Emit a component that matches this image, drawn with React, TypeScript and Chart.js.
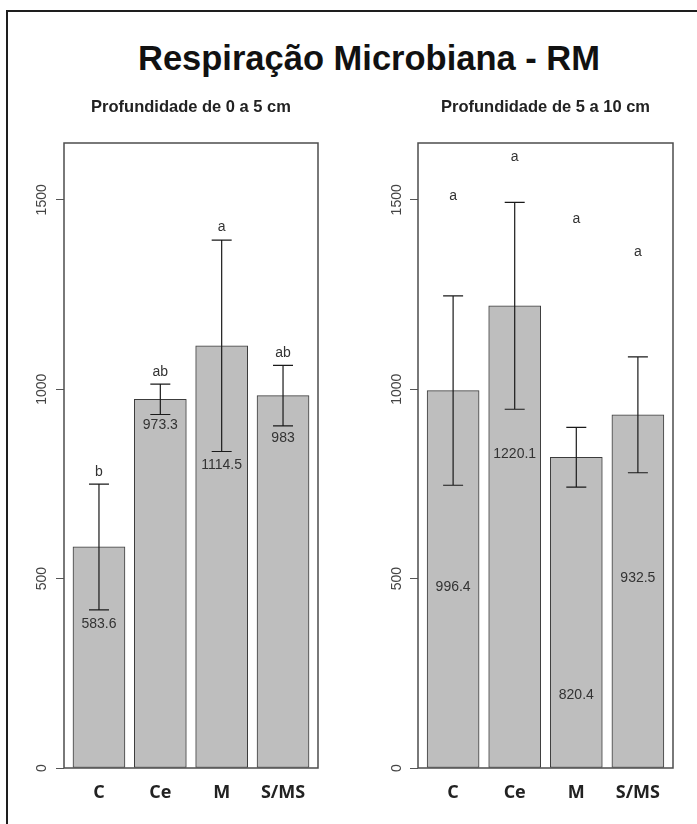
import React, { useEffect, useRef } from "react";
import { Chart, registerables } from "chart.js";

Chart.register(...registerables);

// ---- data ----
const categories = ["C", "Ce", "M", "S/MS"];
const yTicks = [0, 500, 1000, 1500];
const yMax = 1650;

const mainTitle = "Respiração Microbiana - RM";
const subtitleShallow = "Profundidade de 0 a 5 cm";
const subtitleDeep = "Profundidade de 5 a 10 cm";

// 0-5 cm
const meanShallow = [583.6, 973.3, 1114.5, 983];
const errShallow = [166, 40, 279, 80];
const lettersShallow = ["b", "ab", "a", "ab"];
const letterYShallow = [782, 1046, 1429, 1096];
const labelYShallow = [381, 904, 800, 870];

// 5-10 cm
const meanDeep = [996.4, 1220.1, 820.4, 932.5];
const errDeep = [250, 273, 79, 153];
const lettersDeep = ["a", "a", "a", "a"];
const letterYDeep = [1510, 1612, 1449, 1363];
const labelYDeep = [478, 829, 192, 502];

const SANS = '"Liberation Sans", Arial, sans-serif';

type PanelProps = {
  left: number;
  width: number;
  height: number;
  yAxisWidth: number;
  padRight: number;
  padTop: number;
  xAxisHeight: number;
  labelOffset: number;
  means: number[];
  errs: number[];
  letters: string[];
  letterY: number[];
  labelY: number[];
  subtitle: string;
};

function Panel(p: PanelProps) {
  const ref = useRef<HTMLCanvasElement | null>(null);
  useEffect(() => {
    if (!ref.current) return;
    const overlay = {
      id: "overlay",
      afterDatasetsDraw(chart: any) {
        const { ctx, chartArea: a } = chart;
        const xs = chart.scales.x;
        const ys = chart.scales.y;
        ctx.save();
        // error bars
        ctx.strokeStyle = "#1a1a1a";
        ctx.lineWidth = 1.2;
        const cap = 10;
        p.means.forEach((m, i) => {
          const px = xs.getPixelForValue(i);
          const yt = ys.getPixelForValue(m + p.errs[i]);
          const yb = ys.getPixelForValue(m - p.errs[i]);
          ctx.beginPath();
          ctx.moveTo(px, yt);
          ctx.lineTo(px, yb);
          ctx.moveTo(px - cap, yt);
          ctx.lineTo(px + cap, yt);
          ctx.moveTo(px - cap, yb);
          ctx.lineTo(px + cap, yb);
          ctx.stroke();
        });
        // letters and value labels
        ctx.font = "14px " + SANS;
        ctx.fillStyle = "#333";
        ctx.textAlign = "center";
        ctx.textBaseline = "middle";
        p.means.forEach((m, i) => {
          const px = xs.getPixelForValue(i);
          ctx.fillText(p.letters[i], px, ys.getPixelForValue(p.letterY[i]));
          ctx.fillText(String(m), px, ys.getPixelForValue(p.labelY[i]));
        });
        // box
        ctx.strokeStyle = "#4d4d4d";
        ctx.lineWidth = 1.5;
        ctx.strokeRect(a.left, a.top, a.right - a.left, a.bottom - a.top);
        // y tick labels (rotated)
        ctx.fillStyle = "#444";
        ctx.font = "14px " + SANS;
        ctx.textAlign = "center";
        ctx.textBaseline = "alphabetic";
        yTicks.forEach((v) => {
          const py = ys.getPixelForValue(v);
          ctx.save();
          ctx.translate(a.left - p.labelOffset, py);
          ctx.rotate(-Math.PI / 2);
          ctx.fillText(String(v), 0, 0);
          ctx.restore();
        });
        // subtitle
        ctx.font = "bold 16.5px " + SANS;
        ctx.fillStyle = "#222";
        ctx.textAlign = "center";
        ctx.textBaseline = "alphabetic";
        ctx.fillText(p.subtitle, (a.left + a.right) / 2, 111.5);
        ctx.restore();
      },
    };

    const chart = new Chart(ref.current, {
      type: "bar",
      data: {
        datasets: [
          {
            data: p.means.map((v, i) => ({ x: i, y: v })),
            backgroundColor: "#bebebe",
            borderColor: "#3c3c3c",
            borderWidth: 1,
            borderSkipped: false,
            barThickness: 52,
          } as any,
        ],
      },
      options: {
        responsive: false,
        animation: false,
        devicePixelRatio: 1,
        layout: { padding: { top: p.padTop, right: p.padRight, left: 0, bottom: 0 } },
        plugins: { legend: { display: false }, tooltip: { enabled: false }, title: { display: false } },
        scales: {
          x: {
            type: "linear",
            min: -0.57,
            max: 3.57,
            offset: false,
            grid: { display: false, drawTicks: false },
            border: { display: false },
            afterBuildTicks: (s: any) => {
              s.ticks = categories.map((_, i) => ({ value: i }));
            },
            afterFit: (s: any) => {
              s.height = p.xAxisHeight;
            },
            ticks: {
              autoSkip: false,
              maxRotation: 0,
              minRotation: 0,
              padding: 14,
              color: "#222",
              font: { family: '"Open Sans", sans-serif', size: 18, weight: "bold" },
              callback: (v: any) => categories[v as number] ?? "",
            },
          },
          y: {
            type: "linear",
            min: 0,
            max: yMax,
            afterBuildTicks: (s: any) => {
              s.ticks = yTicks.map((v) => ({ value: v }));
            },
            afterFit: (s: any) => {
              s.width = p.yAxisWidth;
            },
            grid: {
              display: true,
              drawOnChartArea: false,
              drawTicks: true,
              tickLength: 8,
              color: "#555",
              lineWidth: 1,
            },
            border: { display: false },
            ticks: { display: false },
          },
        },
      } as any,
      plugins: [overlay],
    });
    return () => chart.destroy();
  }, []);
  return (
    <canvas
      ref={ref}
      width={p.width}
      height={p.height}
      style={{ position: "absolute", left: p.left, top: 0, width: p.width, height: p.height }}
    />
  );
}

export default function App() {
  return (
    <div
      style={{
        position: "absolute",
        left: 0,
        top: 0,
        width: 697,
        height: 824,
        background: "#fff",
        overflow: "hidden",
      }}
    >
      <div
        style={{
          position: "absolute",
          left: 6,
          top: 10,
          width: 720,
          height: 840,
          borderLeft: "2px solid #1e1e1e",
          borderTop: "2px solid #1e1e1e",
        }}
      />
      <div
        style={{
          position: "absolute",
          left: 69,
          width: 600,
          top: 40.8,
          textAlign: "center",
          fontFamily: SANS,
          fontWeight: "bold",
          fontSize: 34.5,
          lineHeight: "34.5px",
          color: "#111",
          whiteSpace: "nowrap",
        }}
      >
        {mainTitle}
      </div>
      <Panel
        left={0}
        width={348}
        height={824}
        yAxisWidth={64}
        padRight={30}
        padTop={143}
        xAxisHeight={56}
        labelOffset={18}
        means={meanShallow}
        errs={errShallow}
        letters={lettersShallow}
        letterY={letterYShallow}
        labelY={labelYShallow}
        subtitle={subtitleShallow}
      />
      <Panel
        left={348}
        width={349}
        height={824}
        yAxisWidth={70}
        padRight={24}
        padTop={143}
        xAxisHeight={56}
        labelOffset={17}
        means={meanDeep}
        errs={errDeep}
        letters={lettersDeep}
        letterY={letterYDeep}
        labelY={labelYDeep}
        subtitle={subtitleDeep}
      />
    </div>
  );
}
